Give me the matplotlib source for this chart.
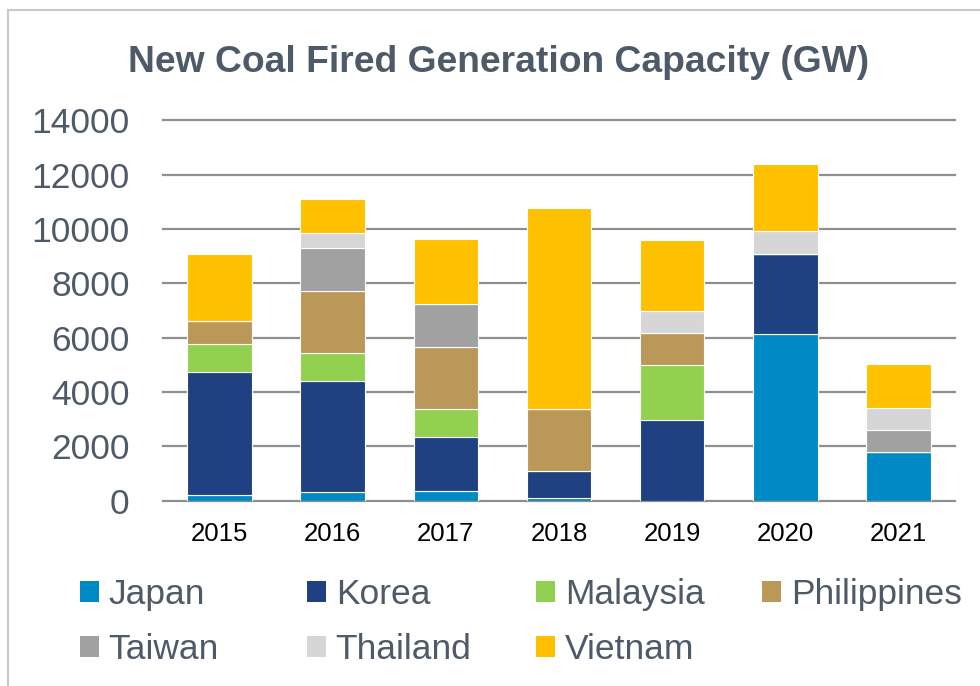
import numpy as np
import matplotlib.pyplot as plt
from matplotlib.patches import Rectangle, Patch

plt.rcParams['font.family'] = ['Liberation Sans', 'DejaVu Sans']

years = ['2015', '2016', '2017', '2018', '2019', '2020', '2021']
countries = ['Japan', 'Korea', 'Malaysia', 'Philippines', 'Taiwan', 'Thailand', 'Vietnam']
japan = [210, 310, 370, 100, 0, 6120, 1800]
korea = [4540, 4100, 1990, 1000, 2980, 2980, 0]
malaysia = [1010, 1020, 1020, 0, 2010, 0, 0]
philippines = [860, 2280, 2270, 2270, 1190, 0, 0]
taiwan = [0, 1590, 1590, 0, 0, 0, 810]
thailand = [0, 550, 0, 0, 810, 820, 810]
vietnam = [2460, 1240, 2410, 7390, 2590, 2460, 1600]

series = [japan, korea, malaysia, philippines, taiwan, thailand, vietnam]
colors = ['#008AC5', '#1F4181', '#92D050', '#BA9858', '#A1A1A1', '#D6D6D6', '#FFC000']
text_col = '#4F5A69'

fig = plt.figure(figsize=(9.8, 6.86), dpi=100)
ax = fig.add_axes([163 / 980, 1 - 500.7 / 686, 792 / 980, 380.3 / 686])

x = np.arange(len(years))
bottom = np.zeros(len(years))
for vals, c in zip(series, colors):
    ax.bar(x, vals, width=0.57, bottom=bottom, color=c, edgecolor='white', linewidth=0.8, zorder=3)
    bottom += np.array(vals)

ax.set_xlim(-0.5, len(years) - 0.5)
ax.set_ylim(0, 14000)
ax.set_yticks(np.arange(0, 14001, 2000))
ax.set_xticks(x)
ax.set_xticklabels(years, fontsize=18.5, color='black')
ax.tick_params(axis='y', length=0, pad=24, labelsize=25.5, labelcolor=text_col)
ax.tick_params(axis='x', length=0, pad=15)
ax.grid(axis='y', color='#8F8F8F', linewidth=1.6, zorder=0)
ax.set_axisbelow(True)
for s in ax.spines.values():
    s.set_visible(False)
for gl in ax.get_ygridlines():
    gl.set_clip_on(False)

fig.text(499 / 980, 1 - 63 / 686, 'New Coal Fired Generation Capacity (GW)',
         fontsize=26.8, fontweight='bold', color=text_col, ha='center', va='center')

# outer frame
fig.patches.append(Rectangle((8 / 980, -0.05), 1.0, 1 - 10 / 686 + 0.05, transform=fig.transFigure,
                             fill=False, edgecolor='#C8C8C8', linewidth=1.5))

# legend, one column at a time (row-major order like the original)
col_x = [80, 307, 536, 762]
for ci, cx in enumerate(col_x):
    idx = [i for i in (ci, ci + 4) if i < len(countries)]
    handles = [Patch(facecolor=colors[i], edgecolor='none') for i in idx]
    labels = [countries[i] for i in idx]
    fig.legend(handles, labels, loc='upper left', bbox_to_anchor=(cx / 980, 1 - 578 / 686),
               frameon=False, fontsize=25.5, labelcolor=text_col, handlelength=0.55,
               handleheight=0.55, handletextpad=0.26, labelspacing=0.62,
               borderpad=0, borderaxespad=0)

fig.savefig('out.png', dpi=100)
